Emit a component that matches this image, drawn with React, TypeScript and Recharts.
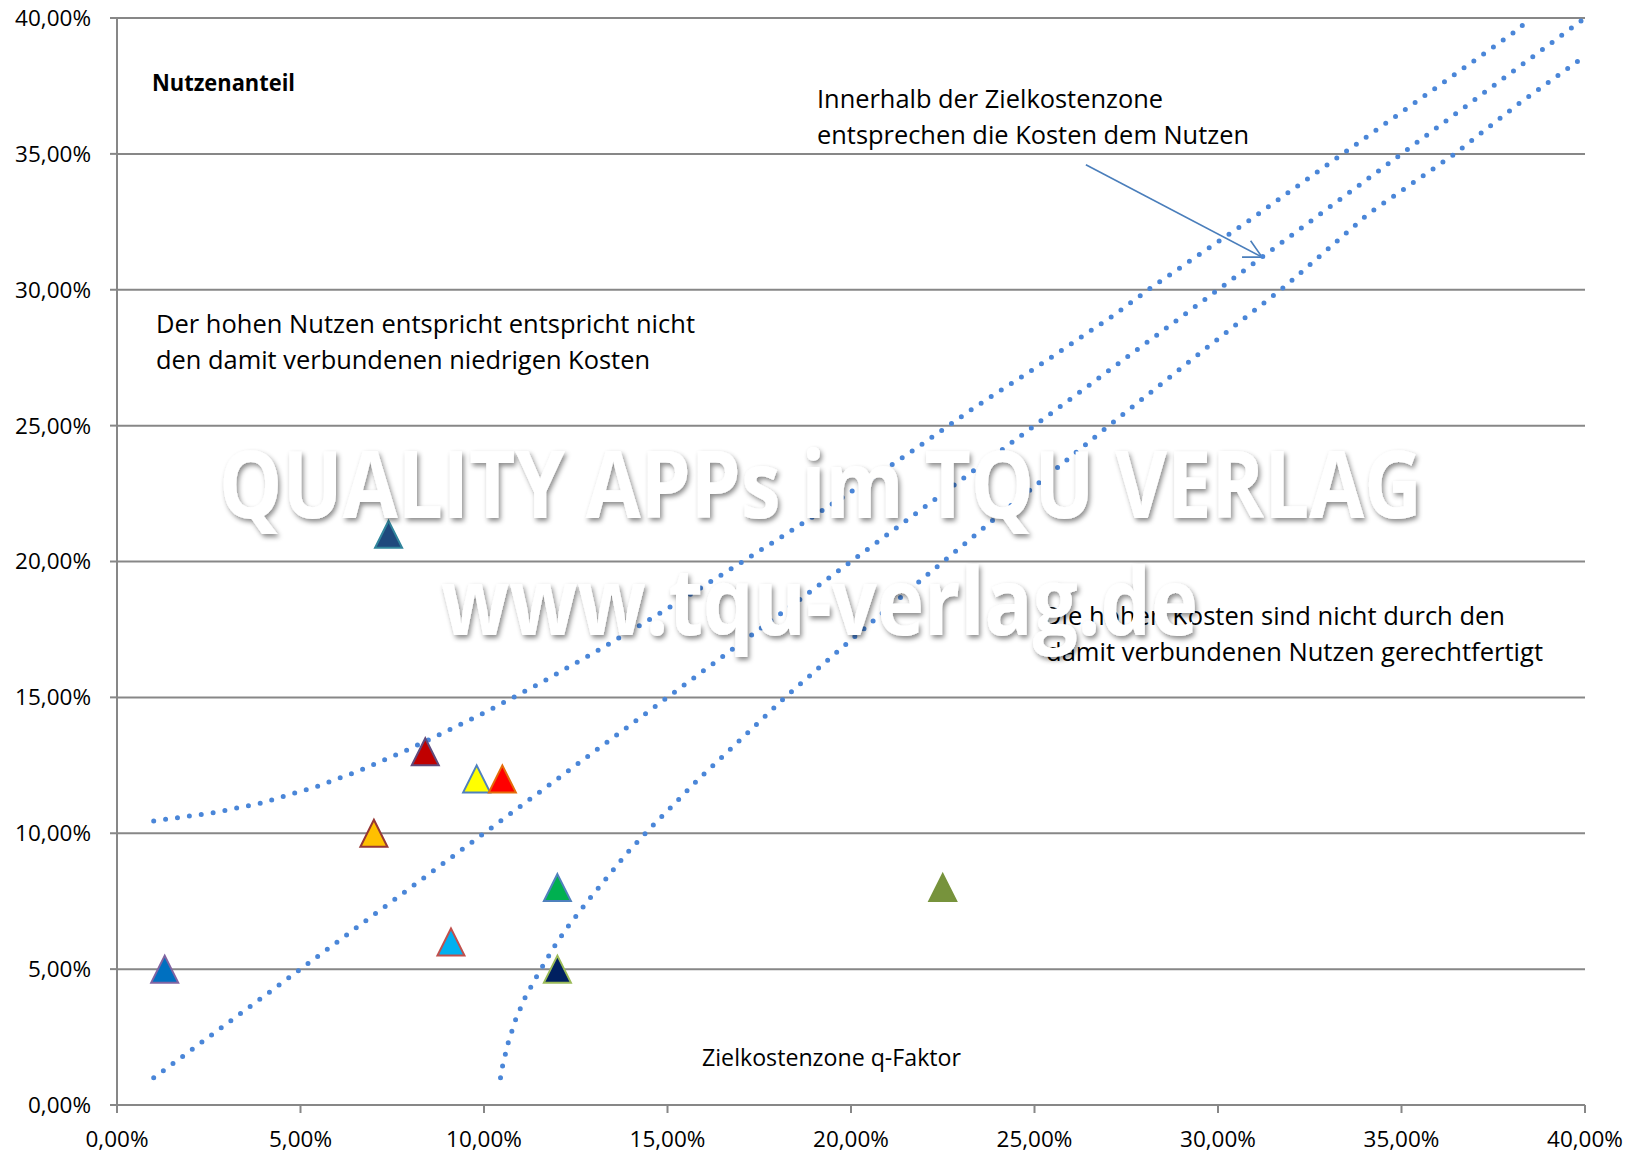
import React from 'react';
import {
  ScatterChart,
  Scatter,
  XAxis,
  YAxis,
  CartesianGrid,
  Cell,
  ReferenceLine,
} from 'recharts';

// Kostenanteil (x) und Nutzenanteil (y) der Funktionen, in %
const costShare = [1.3, 7.0, 8.4, 9.8, 10.5, 9.1, 12.0, 12.0, 22.5, 7.4];
const benefitShare = [5, 10, 13, 12, 12, 6, 8, 5, 8, 21];

const markerFill = ['#0070C0', '#FFC000', '#C00000', '#FFFF00', '#FF0000', '#00B0F0', '#00B050', '#002060', '#77933C', '#1F497D'];
const markerStroke = ['#8064A2', '#953735', '#604A7B', '#4F81BD', '#E46C0A', '#C0504D', '#4F81BD', '#9BBB59', '#77933C', '#31859C'];

// Zielkostenzone – obere Grenze
const upperX = [1.0, 2.6, 3.9, 5.4, 6.6, 7.8, 8.9, 10.1, 11.5, 13.2, 14.8, 16.7, 18.1, 19.7, 21.6, 23.4, 25.0, 27.2, 28.2, 30.9, 33.5, 35.8, 38.2, 38.5];
const upperY = [10.45, 10.75, 11.1, 11.7, 12.3, 13.0, 13.7, 14.5, 15.5, 16.8, 18.1, 19.7, 20.9, 22.3, 24.0, 25.7, 27.1, 29.1, 30.1, 32.6, 35.1, 37.3, 39.6, 40.0];

// Ideallinie
const idealX = [1, 5.1, 10, 13.9, 20.1, 25, 30, 35, 38.2, 40];
const idealY = [1, 5.1, 10, 13.9, 20.1, 25, 30, 35, 38.2, 40];

// Zielkostenzone – untere Grenze
const lowerX = [10.45, 10.5, 10.65, 10.85, 11.1, 11.4, 11.9, 12.25, 12.85, 13.25, 13.85, 14.5, 15.2, 15.85, 16.8, 17.5, 18.2, 19.9, 21.85, 23.85, 26.8, 29.3, 31.85, 34.1, 36.4, 38.15, 40];
const lowerY = [1.0, 1.4, 2.25, 3.1, 3.9, 4.65, 5.8, 6.5, 7.55, 8.2, 9.2, 10.15, 11.1, 12.0, 13.2, 14.1, 15.0, 17.0, 19.25, 21.5, 24.75, 27.45, 30.15, 32.8, 34.95, 36.8, 38.6];

const axisTicks = [0, 5, 10, 15, 20, 25, 30, 35, 40];

// Pfeil zur Zielkostenzone (Start, Ende)
const arrowX = [26.4, 31.2];
const arrowY = [34.6, 31.2];

const toPoints = (xs: number[], ys: number[]) => xs.map((x, i) => ({ x, y: ys[i] }));
const pct = (v: number) => v.toFixed(2).replace('.', ',') + '%';

const FONT = "'Open Sans', sans-serif";
const GRID = '#878787';
const DOTS = '#4a86d8';

const Triangle = (props: any) => {
  const { cx, cy, fill, stroke } = props;
  const h = 13.5;
  return (
    <polygon
      points={`${cx},${cy - h} ${cx + h},${cy + h} ${cx - h},${cy + h}`}
      fill={fill}
      stroke={stroke}
      strokeWidth={2}
    />
  );
};

const Arrow = (props: any) => {
  const { x1, y1, x2, y2 } = props;
  const a = Math.atan2(y1 - y2, x1 - x2);
  const len = 20;
  const spread = 0.48;
  const b1 = { x: x2 + len * Math.cos(a + spread), y: y2 + len * Math.sin(a + spread) };
  const b2 = { x: x2 + len * Math.cos(a - spread), y: y2 + len * Math.sin(a - spread) };
  return (
    <g stroke="#4a7ebb" strokeWidth={1.6} fill="none">
      <line x1={x1} y1={y1} x2={x2} y2={y2} />
      <polyline points={`${b1.x},${b1.y} ${x2},${y2} ${b2.x},${b2.y}`} />
    </g>
  );
};

const noDot = () => <g />;

const dotted = {
  stroke: DOTS,
  strokeWidth: 5,
  strokeDasharray: '0 12',
  strokeLinecap: 'round' as const,
};

export default function App() {
  const markers = toPoints(costShare, benefitShare);

  return (
    <div style={{ position: 'absolute', left: 0, top: 0, width: 1631, height: 1155, background: '#fff' }}>
      <ScatterChart width={1631} height={1155} margin={{ top: 18, right: 46, bottom: 0, left: 0 }}>
        <CartesianGrid vertical={false} stroke={GRID} strokeWidth={2} />
        <XAxis
          type="number"
          dataKey="x"
          domain={[0, 40]}
          ticks={axisTicks}
          interval={0}
          tickFormatter={pct}
          height={50}
          tickSize={8}
          tickMargin={18}
          axisLine={{ stroke: GRID, strokeWidth: 2 }}
          tickLine={{ stroke: GRID, strokeWidth: 2 }}
          tick={{ fill: '#000', fontSize: 22.5, fontFamily: FONT }}
        />
        <YAxis
          type="number"
          dataKey="y"
          domain={[0, 40]}
          ticks={axisTicks}
          interval={0}
          tickFormatter={pct}
          width={117}
          tickSize={7}
          tickMargin={19}
          axisLine={{ stroke: GRID, strokeWidth: 2 }}
          tickLine={{ stroke: GRID, strokeWidth: 2 }}
          tick={{ fill: '#000', fontSize: 22.5, fontFamily: FONT }}
        />
        <Scatter data={toPoints(upperX, upperY)} line={dotted} shape={noDot} isAnimationActive={false} />
        <Scatter data={toPoints(idealX, idealY)} line={dotted} shape={noDot} isAnimationActive={false} />
        <Scatter data={toPoints(lowerX, lowerY)} line={dotted} shape={noDot} isAnimationActive={false} />
        <Scatter data={markers} shape={Triangle} isAnimationActive={false}>
          {markers.map((_, i) => (
            <Cell key={`m-${i}`} fill={markerFill[i]} stroke={markerStroke[i]} />
          ))}
        </Scatter>
        <ReferenceLine
          segment={[
            { x: arrowX[0], y: arrowY[0] },
            { x: arrowX[1], y: arrowY[1] },
          ]}
          shape={Arrow}
        />
      </ScatterChart>

      {/* Beschriftungen und Wasserzeichen */}
      <svg
        width={1631}
        height={1155}
        style={{ position: 'absolute', left: 0, top: 0, pointerEvents: 'none' }}
        fontFamily={FONT}
      >
        <defs>
          <filter id="wm-shadow" x="-5%" y="-20%" width="110%" height="150%">
            <feDropShadow dx="2" dy="3" stdDeviation="2.5" floodColor="#000" floodOpacity="0.45" />
          </filter>
        </defs>
        <text x={152} y={91} fontSize={23.5} fontWeight={700} textLength={143} lengthAdjust="spacingAndGlyphs">
          Nutzenanteil
        </text>
        <g fontSize={25} fill="#000">
          <text x={156} y={333} textLength={539} lengthAdjust="spacingAndGlyphs">
            Der hohen Nutzen entspricht entspricht nicht
          </text>
          <text x={156} y={369} textLength={494} lengthAdjust="spacingAndGlyphs">
            den damit verbundenen niedrigen Kosten
          </text>
          <text x={817} y={108} textLength={346} lengthAdjust="spacingAndGlyphs">
            Innerhalb der Zielkostenzone
          </text>
          <text x={817} y={144} textLength={432} lengthAdjust="spacingAndGlyphs">
            entsprechen die Kosten dem Nutzen
          </text>
          <text x={1043} y={625} textLength={462} lengthAdjust="spacingAndGlyphs">
            Die hohen Kosten sind nicht durch den
          </text>
          <text x={1046} y={661} textLength={497} lengthAdjust="spacingAndGlyphs">
            damit verbundenen Nutzen gerechtfertigt
          </text>
        </g>
        <text x={702} y={1066} fontSize={24} textLength={259} lengthAdjust="spacingAndGlyphs">
          Zielkostenzone q-Faktor
        </text>
        <g fill="#fff" fontWeight={700} fontSize={93} filter="url(#wm-shadow)">
          <text x={219} y={518} textLength={1203} lengthAdjust="spacingAndGlyphs">
            QUALITY APPs im TQU VERLAG
          </text>
          <text x={441} y={635} textLength={757} lengthAdjust="spacingAndGlyphs">
            www.tqu-verlag.de
          </text>
        </g>
      </svg>
    </div>
  );
}
